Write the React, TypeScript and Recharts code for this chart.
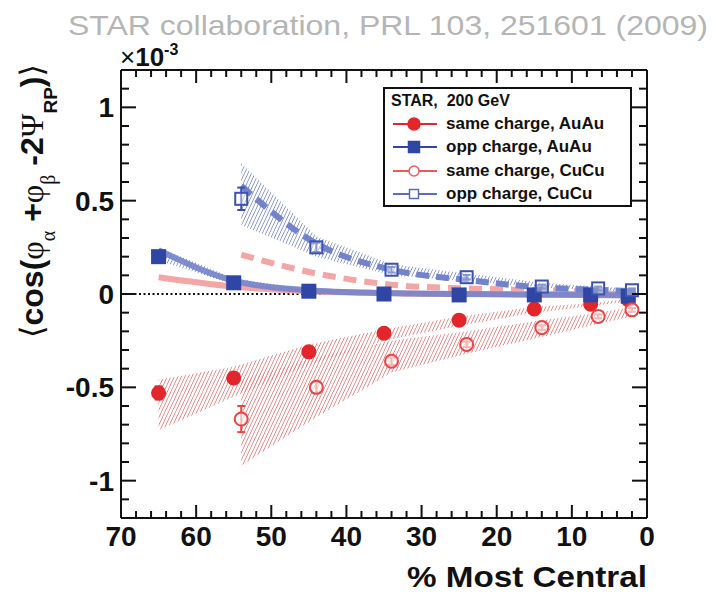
import React from "react";
import {
  ComposedChart,
  XAxis,
  YAxis,
  Line,
  Area,
  Scatter,
  ErrorBar,
  ReferenceLine,
  Legend,
} from "recharts";

const RED = "#e3262b";
const BLUE = "#2f46a4";
const PINK = "#f4a5a5";
const LAVENDER = "#7383cb";
const INK = "#111";
const FONT = "'Liberation Sans', Arial, Helvetica, sans-serif";
const SERIF = "'Liberation Serif', 'DejaVu Serif', serif";

// centrality bins (% most central)
const auCentrality = [65, 55, 45, 35, 25, 15, 7.5, 2.5];
const cuCentrality = [54, 44, 34, 24, 14, 6.5, 2];

// measured points (x 10^-3)
const auSame = [-0.53, -0.45, -0.31, -0.21, -0.14, -0.08, -0.055, -0.03];
const auSameErr = [0.035, 0.015, 0.012, 0.01, 0.008, 0.008, 0.008, 0.008];
const auOpp = [0.2, 0.06, 0.015, 0, -0.005, -0.005, -0.005, -0.012];
const auOppErr = [0.03, 0.012, 0.008, 0.008, 0.006, 0.006, 0.006, 0.006];
const cuSame = [-0.67, -0.5, -0.36, -0.27, -0.18, -0.12, -0.085];
const cuSameErr = [0.07, 0.03, 0.02, 0.015, 0.012, 0.01, 0.01];
const cuOpp = [0.51, 0.25, 0.13, 0.09, 0.04, 0.03, 0.02];
const cuOppErr = [0.06, 0.025, 0.015, 0.012, 0.01, 0.01, 0.01];

// v2 systematic bands
const auSameBandLow = [-0.73, -0.55, -0.38, -0.25, -0.17, -0.1, -0.065, -0.04];
const auSameBandHigh = [-0.46, -0.39, -0.27, -0.19, -0.12, -0.07, -0.05, -0.025];
const auOppBandLow = [0.18, 0.05, 0.01, 0, -0.005, -0.008, -0.008, -0.01];
const auOppBandHigh = [0.25, 0.085, 0.025, 0.01, 0.005, 0.002, 0.002, 0];
const cuSameBandLow = [-0.92, -0.66, -0.42, -0.32, -0.23, -0.16, -0.12];
const cuSameBandHigh = [-0.46, -0.34, -0.25, -0.2, -0.14, -0.1, -0.07];
const cuOppBandLow = [0.37, 0.2, 0.1, 0.07, 0.035, 0.02, 0.01];
const cuOppBandHigh = [0.7, 0.31, 0.16, 0.11, 0.06, 0.04, 0.03];

// thick curves
const auSameCurve = [0.09, 0.04, 0.015, 0.005, 0, 0, 0, 0];
const auOppCurve = [0.235, 0.072, 0.02, 0.005, 0, -0.004, -0.005, -0.008];
const cuSameCurve = [0.21, 0.11, 0.05, 0.03, 0.02, 0.012, 0.008];
const cuOppCurve = [0.58, 0.27, 0.13, 0.075, 0.035, 0.022, 0.015];

const xTicks = [0, 2, 4, 6, 8, 10, 12, 14, 16, 18, 20, 22, 24, 26, 28, 30, 32, 34, 36, 38, 40, 42, 44, 46, 48, 50, 52, 54, 56, 58, 60, 62, 64, 66, 68, 70];
const xMajor = [0, 10, 20, 30, 40, 50, 60, 70];
const xTickLabels = ["0", "10", "20", "30", "40", "50", "60", "70"];
const yTicks = [-1.2, -1.1, -1, -0.9, -0.8, -0.7, -0.6, -0.5, -0.4, -0.3, -0.2, -0.1, 0, 0.1, 0.2, 0.3, 0.4, 0.5, 0.6, 0.7, 0.8, 0.9, 1, 1.1, 1.2];
const yMajor = [-1, -0.5, 0, 0.5, 1];
const yTickLabels = ["-1", "-0.5", "0", "0.5", "1"];

const legendEntries = [
  { label: "same charge, AuAu", color: RED, shape: "circle", filled: true },
  { label: "opp charge, AuAu", color: BLUE, shape: "square", filled: true },
  { label: "same charge, CuCu", color: "#ec5a5a", shape: "circle", filled: false },
  { label: "opp charge, CuCu", color: "#5a6dbd", shape: "square", filled: false },
];

const points = (xs: number[], ys: number[], errs: number[]) =>
  xs.map((x, i) => ({ x, y: ys[i], err: errs[i] }));
const curve = (xs: number[], ys: number[]) => xs.map((x, i) => ({ x, y: ys[i] }));
const band = (xs: number[], lo: number[], hi: number[]) =>
  xs.map((x, i) => ({ x, range: [lo[i], hi[i]] }));

type Side = "bottom" | "top" | "left" | "right";

const tickFor = (side: Side) => (props: any) => {
  const { x, y, payload } = props;
  const v: number = payload.value;
  const horizontal = side === "bottom" || side === "top";
  const idx = horizontal ? xMajor.indexOf(v) : yMajor.indexOf(v);
  const major = idx >= 0;
  const len = horizontal ? (major ? 13 : 7) : major ? 15 : 8;
  let x2 = x;
  let y2 = y;
  if (side === "bottom") y2 = y - len;
  if (side === "top") y2 = y + len;
  if (side === "left") x2 = x + len;
  if (side === "right") x2 = x - len;
  return (
    <g>
      <line x1={x} y1={y} x2={x2} y2={y2} stroke={INK} strokeWidth={2} />
      {side === "bottom" && major && (
        <text x={x} y={y + 28} textAnchor="middle" fontSize={28} fontWeight="bold" fontFamily={FONT} fill={INK}>
          {xTickLabels[idx]}
        </text>
      )}
      {side === "left" && major && (
        <text x={x - 7} y={y + 10} textAnchor="end" fontSize={28} fontWeight="bold" fontFamily={FONT} fill={INK}>
          {yTickLabels[idx]}
        </text>
      )}
    </g>
  );
};

const marker = (shape: string, color: string, filled: boolean, size: number) => (props: any) => {
  const { cx, cy } = props;
  if (cx == null || cy == null) return <g />;
  if (shape === "circle")
    return (
      <circle cx={cx} cy={cy} r={size / 2} fill={filled ? color : "#fff"} fillOpacity={filled ? 1 : 0.6}
        stroke={color} strokeWidth={2} />
    );
  return (
    <rect x={cx - size / 2} y={cy - size / 2} width={size} height={size} fill={filled ? color : "#fff"}
      fillOpacity={filled ? 1 : 0.4} stroke={color} strokeWidth={2} />
  );
};

const LegendBox = () => (
  <div
    style={{
      width: 249,
      height: 120,
      boxSizing: "border-box",
      border: `2px solid ${INK}`,
      background: "#fff",
      fontFamily: FONT,
      fontWeight: "bold",
      color: INK,
    }}
  >
    <div style={{ height: 23, lineHeight: "24px", paddingLeft: 6, fontSize: 16, whiteSpace: "pre" }}>
      {"STAR,  200 GeV"}
    </div>
    {legendEntries.map((e) => (
      <div key={e.label} style={{ height: 23.5, display: "flex", alignItems: "center", paddingLeft: 8 }}>
        <svg width={46} height={20} style={{ display: "block" }}>
          <line x1={0} y1={10} x2={44} y2={10} stroke={e.color} strokeWidth={2} />
          {e.shape === "circle" ? (
            <circle cx={21} cy={10} r={e.filled ? 6 : 5} fill={e.filled ? e.color : "#fff"} stroke={e.color} strokeWidth={1.5} />
          ) : (
            <rect x={e.filled ? 15.5 : 16.5} y={e.filled ? 4.5 : 5.5} width={e.filled ? 11 : 9} height={e.filled ? 11 : 9}
              fill={e.filled ? e.color : "#fff"} stroke={e.color} strokeWidth={1.5} />
          )}
        </svg>
        <span style={{ marginLeft: 7, fontSize: 17 }}>{e.label}</span>
      </div>
    ))}
  </div>
);

const axisLine = { stroke: INK, strokeWidth: 2 };

export default function App() {
  return (
    <div style={{ position: "absolute", left: 0, top: 0, width: 719, height: 597, background: "#fff" }}>
      <ComposedChart width={719} height={597} margin={{ top: 60, right: 62, bottom: 39, left: 61 }}>
        <defs>
          <pattern id="hatchRed" width="3.2" height="3.2" patternUnits="userSpaceOnUse" patternTransform="rotate(25)">
            <line x1="0" y1="0" x2="0" y2="3.2" stroke="#ec7c7c" strokeWidth="1.6" />
          </pattern>
          <pattern id="hatchBlue" width="3.2" height="3.2" patternUnits="userSpaceOnUse" patternTransform="rotate(25)">
            <line x1="0" y1="0" x2="0" y2="3.2" stroke="#7f8ed2" strokeWidth="1.6" />
          </pattern>
        </defs>

        <text x={708} y={35} textAnchor="end" fontSize={28} fontFamily={FONT} fill="#b5b5b5" textLength={640}
          lengthAdjust="spacingAndGlyphs">
          STAR collaboration, PRL 103, 251601 (2009)
        </text>
        <text x={120} y={66} fontFamily={FONT} fill={INK} fontSize={26}>
          <tspan>×</tspan>
          <tspan fontWeight="bold">10</tspan>
          <tspan fontWeight="bold" fontSize={16} dy={-11}>-3</tspan>
        </text>
        <text x={647} y={587} textAnchor="end" fontSize={30} fontWeight="bold" fontFamily={FONT} fill={INK}
          textLength={240} lengthAdjust="spacingAndGlyphs">
          % Most Central
        </text>
        <text transform="rotate(-90 43 201)" x={43} y={201} textAnchor="middle" fontSize={32} fontWeight="bold"
          fontFamily={FONT} fill={INK}>
          <tspan fontFamily="'DejaVu Sans', sans-serif" fontWeight="normal">⟨</tspan>
          <tspan>cos(</tspan>
          <tspan fontFamily={SERIF} fontWeight="normal">φ</tspan>
          <tspan fontFamily={SERIF} fontWeight="normal" fontSize={20} dy={12}>α</tspan>
          <tspan dy={-12}> +</tspan>
          <tspan fontFamily={SERIF} fontWeight="normal">φ</tspan>
          <tspan fontFamily={SERIF} fontWeight="normal" fontSize={20} dy={12}>β</tspan>
          <tspan dy={-12}> -2</tspan>
          <tspan fontFamily={SERIF} fontWeight="normal">Ψ</tspan>
          <tspan fontSize={19} dy={14}>RP</tspan>
          <tspan dy={-14}>)</tspan>
          <tspan fontFamily="'DejaVu Sans', sans-serif" fontWeight="normal">⟩</tspan>
        </text>

        <XAxis dataKey="x" type="number" domain={[0, 70]} reversed allowDataOverflow ticks={xTicks} interval={0}
          tick={tickFor("bottom")} tickLine={false} tickSize={0} tickMargin={0} axisLine={axisLine} height={40} />
        <XAxis xAxisId="top" orientation="top" dataKey="x" type="number" domain={[0, 70]} reversed allowDataOverflow
          ticks={xTicks} interval={0} tick={tickFor("top")} tickLine={false} tickSize={0} tickMargin={0}
          axisLine={axisLine} height={10} />
        <YAxis type="number" domain={[-1.2, 1.2]} allowDataOverflow ticks={yTicks} interval={0} tick={tickFor("left")}
          tickLine={false} tickSize={0} tickMargin={0} axisLine={axisLine} width={60} />
        <YAxis yAxisId="right" orientation="right" type="number" domain={[-1.2, 1.2]} allowDataOverflow ticks={yTicks}
          interval={0} tick={tickFor("right")} tickLine={false} tickSize={0} tickMargin={0} axisLine={axisLine}
          width={10} />

        <Area data={band(auCentrality, auSameBandLow, auSameBandHigh)} dataKey="range" type="linear" stroke="none"
          fill="url(#hatchRed)" fillOpacity={1} isAnimationActive={false} dot={false} activeDot={false} />
        <Area data={band(cuCentrality, cuSameBandLow, cuSameBandHigh)} dataKey="range" type="linear" stroke="none"
          fill="url(#hatchRed)" fillOpacity={1} isAnimationActive={false} dot={false} activeDot={false} />
        <Area data={band(cuCentrality, cuOppBandLow, cuOppBandHigh)} dataKey="range" type="linear" stroke="none"
          fill="url(#hatchBlue)" fillOpacity={1} isAnimationActive={false} dot={false} activeDot={false} />
        <Area data={band(auCentrality, auOppBandLow, auOppBandHigh)} dataKey="range" type="linear" stroke="none"
          fill="url(#hatchBlue)" fillOpacity={1} isAnimationActive={false} dot={false} activeDot={false} />

        <ReferenceLine y={0} stroke={INK} strokeWidth={2} strokeDasharray="2 2.5" />

        <Line data={curve(auCentrality, auSameCurve)} dataKey="y" type="monotone" stroke={PINK} strokeWidth={6}
          dot={false} activeDot={false} isAnimationActive={false} />
        <Line data={curve(cuCentrality, cuSameCurve)} dataKey="y" type="monotone" stroke={PINK} strokeWidth={6}
          strokeDasharray="13 8" dot={false} activeDot={false} isAnimationActive={false} />
        <Line data={curve(auCentrality, auOppCurve)} dataKey="y" type="monotone" stroke={LAVENDER} strokeWidth={6}
          strokeOpacity={0.9} dot={false} activeDot={false} isAnimationActive={false} />
        <Line data={curve(cuCentrality, cuOppCurve)} dataKey="y" type="monotone" stroke={LAVENDER} strokeWidth={6}
          strokeDasharray="13 7" dot={false} activeDot={false} isAnimationActive={false} />

        <Scatter data={points(auCentrality, auSame, auSameErr)} dataKey="y" shape={marker("circle", RED, true, 13)}
          isAnimationActive={false}>
          <ErrorBar dataKey="err" direction="y" width={4} stroke={RED} strokeWidth={2} />
        </Scatter>
        <Scatter data={points(auCentrality, auOpp, auOppErr)} dataKey="y" shape={marker("square", BLUE, true, 13)}
          isAnimationActive={false}>
          <ErrorBar dataKey="err" direction="y" width={4} stroke={BLUE} strokeWidth={2} />
        </Scatter>
        <Scatter data={points(cuCentrality, cuSame, cuSameErr)} dataKey="y" shape={marker("circle", "#e84545", false, 13)}
          isAnimationActive={false}>
          <ErrorBar dataKey="err" direction="y" width={4} stroke="#e84545" strokeWidth={2} />
        </Scatter>
        <Scatter data={points(cuCentrality, cuOpp, cuOppErr)} dataKey="y" shape={marker("square", "#3c52ad", false, 12)}
          isAnimationActive={false}>
          <ErrorBar dataKey="err" direction="y" width={4} stroke="#3c52ad" strokeWidth={2} />
        </Scatter>

        <Legend layout="vertical" align="center" verticalAlign="middle" content={() => <LegendBox />}
          wrapperStyle={{ left: 383, top: 87, width: 249, height: 120 }} />
      </ComposedChart>
    </div>
  );
}
